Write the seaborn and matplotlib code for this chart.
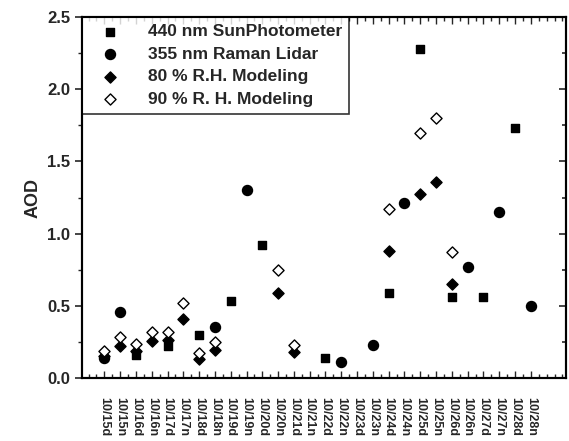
import pandas as pd
import matplotlib
matplotlib.use("Agg")
import matplotlib.pyplot as plt
from matplotlib.ticker import MultipleLocator, FormatStrFormatter
import seaborn as sns

sns.set_theme(style="ticks")
plt.rcParams['font.family'] = ['Liberation Sans', 'DejaVu Sans']
plt.rcParams['font.weight'] = 'bold'

# categorie sull'asse x (giorno / notte)
dates = ["10/15d", "10/15n", "10/16d", "10/16n", "10/17d", "10/17n", "10/18d",
         "10/18n", "10/19d", "10/19n", "10/20d", "10/20n", "10/21d", "10/21n",
         "10/22d", "10/22n", "10/23d", "10/23n", "10/24d", "10/24n", "10/25d",
         "10/25n", "10/26d", "10/26n", "10/27d", "10/27n", "10/28d", "10/28n"]

# 440 nm SunPhotometer
sun_dates = ["10/16d", "10/17d", "10/18d", "10/19d", "10/20d", "10/22d",
             "10/24d", "10/25d", "10/26d", "10/27d", "10/28d"]
sun_aod = [0.16, 0.22, 0.30, 0.53, 0.92, 0.14, 0.59, 2.28, 0.56, 0.56, 1.73]

# 355 nm Raman Lidar
lidar_dates = ["10/15d", "10/15n", "10/18n", "10/19n", "10/22n", "10/23n",
               "10/24n", "10/26n", "10/27n", "10/28n"]
lidar_aod = [0.14, 0.46, 0.355, 1.30, 0.11, 0.23, 1.21, 0.77, 1.15, 0.50]

# modelli R.H.
model_dates = ["10/15d", "10/15n", "10/16d", "10/16n", "10/17d", "10/17n", "10/18d",
               "10/18n", "10/20n", "10/21d", "10/24d", "10/25d", "10/25n", "10/26d"]
rh80_aod = [0.15, 0.22, 0.19, 0.255, 0.26, 0.41, 0.13, 0.195, 0.59, 0.18,
            0.88, 1.275, 1.36, 0.65]
rh90_aod = [0.19, 0.285, 0.235, 0.32, 0.32, 0.52, 0.17, 0.25, 0.75, 0.23,
            1.17, 1.70, 1.80, 0.87]

series = [
    ("440 nm SunPhotometer", sun_dates, sun_aod, "s", "black", 40),
    ("355 nm Raman Lidar", lidar_dates, lidar_aod, "o", "black", 52),
    ("80 % R.H. Modeling", model_dates, rh80_aod, "D", "black", 32),
    ("90 % R. H. Modeling", model_dates, rh90_aod, "D", "white", 32),
]

fig = plt.figure(figsize=(5.69, 4.41), dpi=100)
ax = fig.add_axes([0.144, 0.143, 0.850, 0.818])

for label, d, v, mk, fc, size in series:
    df = pd.DataFrame({"pos": [dates.index(x) for x in d], "AOD": v})
    sns.scatterplot(data=df, x="pos", y="AOD", marker=mk, s=size, color=fc,
                    edgecolor="black", linewidth=1.0, label=label, ax=ax, zorder=3)

ax.set_xlim(-1.42, 29.2)
ax.set_ylim(0, 2.5)
ax.set_xticks(range(len(dates)))
ax.set_xticklabels(dates, rotation=-90, fontsize=9, fontweight='bold')
ax.xaxis.set_minor_locator(MultipleLocator(0.5))
ax.yaxis.set_major_locator(MultipleLocator(0.5))
ax.yaxis.set_minor_locator(MultipleLocator(0.25))
ax.yaxis.set_major_formatter(FormatStrFormatter('%.1f'))
for t in ax.get_yticklabels():
    t.set_fontweight('bold')
ax.tick_params(axis='y', labelsize=12, direction='out', length=5, width=1.2, left=True, right=False)
ax.tick_params(axis='y', which='minor', direction='out', length=3, width=1.0)
ax.tick_params(axis='x', which='both', direction='in', top=True, bottom=True,
               pad=14, width=1.0)
ax.tick_params(axis='x', which='major', length=5)
ax.tick_params(axis='x', which='minor', length=3)

# tacche interne sul lato destro
ax2 = ax.twinx()
ax2.set_ylim(0, 2.5)
ax2.yaxis.set_major_locator(MultipleLocator(0.5))
ax2.yaxis.set_minor_locator(MultipleLocator(0.25))
ax2.tick_params(axis='y', which='both', direction='in', labelright=False, width=1.2)
ax2.tick_params(axis='y', which='major', length=5)
ax2.tick_params(axis='y', which='minor', length=3)

for a in (ax, ax2):
    for s in a.spines.values():
        s.set_linewidth(1.5)
        s.set_color("black")

ax.set_xlabel("")
ax.set_ylabel("AOD", fontsize=13, fontweight='bold', labelpad=4)

leg = ax.legend(loc="upper left", bbox_to_anchor=(0, 1), borderaxespad=0,
                frameon=True, fancybox=False, edgecolor="black",
                prop={'size': 12.5, 'weight': 'bold'}, handletextpad=1.0,
                labelspacing=0.42, borderpad=0.4, handlelength=2.4)
leg.get_frame().set_linewidth(1.2)
leg.set_zorder(5)

fig.savefig("out.png", dpi=100)
